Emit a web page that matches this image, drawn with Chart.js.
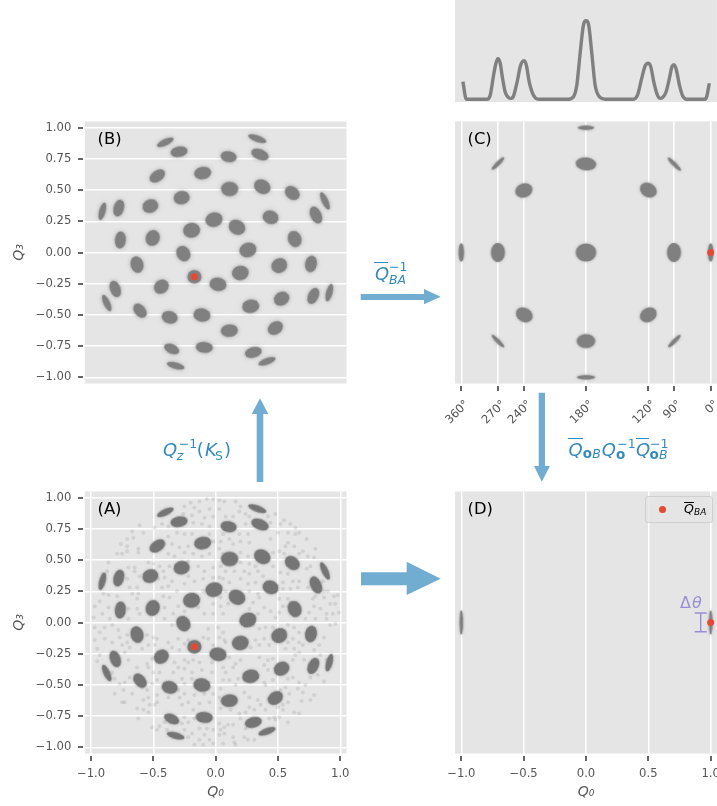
<!DOCTYPE html>
<html>
<head>
<meta charset="utf-8">
<title>Q0 Q3 projections</title>
<script src="https://cdn.jsdelivr.net/npm/chart.js@4"></script>
<style>
  html, body { margin: 0; padding: 0; background: #fff; }
  #page { position: relative; width: 717px; height: 806px; overflow: hidden; font-family: "DejaVu Sans", sans-serif; }
  #page canvas { position: absolute; }
  #arrows { position: absolute; left: 0; top: 0; }
  .piece { position: absolute; white-space: pre; line-height: normal; }
  .rule { position: absolute; }
  .tick { position: absolute; background: #666666; }
  #legendBox { position: absolute; left: 645px; top: 496px; width: 66px; height: 25px; background: rgba(229,229,229,0.8); border: 1px solid #cfcfcf; border-radius: 3px; }
  #legendDot { position: absolute; left: 658.8px; top: 505.8px; width: 7px; height: 7px; border-radius: 50%; background: #E24A33; }
</style>
</head>
<body>
<div id="page"></div>
<script>
// axis ticks
const q0Ticks = [-1, -0.5, 0, 0.5, 1];
const q0Labels = ["\u22121.0", "\u22120.5", "0.0", "0.5", "1.0"];
const q3Ticks = [-1, -0.75, -0.5, -0.25, 0, 0.25, 0.5, 0.75, 1];
const q3Labels = ["\u22121.00", "\u22120.75", "\u22120.50", "\u22120.25", "0.00", "0.25", "0.50", "0.75", "1.00"];
const angleTicks = [-1, -0.706, -0.498, 0, 0.5, 0.706, 1];
const angleLabels = ["360\u00b0", "270\u00b0", "240\u00b0", "180\u00b0", "120\u00b0", "90\u00b0", "0\u00b0"];

// centres of the point clusters in (A) and (B)
const clusterQ0 = [-0.404, -0.294, 0.104, 0.334, 0.356, -0.104, -0.468, 0.112, 0.374, 0.615, 0.877, 0.805, 0.441, 0.171, -0.013, -0.273, -0.524, -0.778, -0.909, -0.765, -0.505, -0.193, -0.259, 0.259, 0.634, -0.631, -0.805, -0.874, -0.607, -0.436, -0.171, 0.019, 0.198, 0.511, 0.765, 0.529, 0.281, -0.11, -0.369, -0.353, -0.321, -0.091, 0.11, 0.479, 0.783, 0.912, 0.302, 0.412];
const clusterQ3 = [0.883, 0.808, 0.768, 0.912, 0.786, 0.637, 0.613, 0.509, 0.527, 0.477, 0.413, 0.3, 0.282, 0.202, 0.263, 0.439, 0.372, 0.356, 0.33, 0.1, 0.116, 0.178, -0.009, 0.02, 0.108, -0.097, -0.292, -0.405, -0.466, -0.274, -0.194, -0.255, -0.164, -0.105, -0.092, -0.37, -0.431, -0.501, -0.519, -0.773, -0.907, -0.76, -0.626, -0.605, -0.348, -0.322, -0.8, -0.872];

// centres of the clusters in (C)
const alignedQ0 = [0, 0, 0, 0, 0, -0.498, 0.5, -0.495, 0.5, -0.706, 0.706, -1, 1, -0.706, 0.709, -0.706, 0.709];
const alignedQ3 = [1, 0.71, 0, -0.71, -1, 0.497, 0.5, -0.5, -0.5, 0, 0, 0, 0, 0.713, 0.708, -0.71, -0.71];

// clusters in (D)
const finalQ0 = [-1, 1];
const finalQ3 = [0, 0];

// the marked rotation
const markedA = [-0.171, -0.194];
const markedC = [1, 0];

// error bar for delta theta in (D)
const deltaQ0 = [0.92, 0.92];
const deltaQ3 = [0.076, -0.074];

// ridge curve above (C)
const ridgeQ0 = [-0.987, -0.96, -0.794, -0.768, -0.741, -0.722, -0.706, -0.688, -0.669, -0.648, -0.621, -0.602, -0.581, -0.549, -0.527, -0.498, -0.479, -0.453, -0.421, -0.381, -0.14, -0.1, -0.073, -0.047, -0.02, 0, 0.02, 0.047, 0.073, 0.108, 0.154, 0.38, 0.413, 0.447, 0.474, 0.498, 0.519, 0.546, 0.573, 0.594, 0.615, 0.642, 0.669, 0.69, 0.706, 0.725, 0.749, 0.776, 0.808, 0.955, 0.968, 0.989];
const ridgeHeight = [0.23, 0.01, 0.01, 0.06, 0.31, 0.46, 0.52, 0.46, 0.27, 0.1, 0.03, 0.02, 0.05, 0.25, 0.42, 0.49, 0.44, 0.21, 0.06, 0.01, 0.01, 0.04, 0.19, 0.58, 0.94, 0.99, 0.95, 0.58, 0.19, 0.04, 0.01, 0.01, 0.06, 0.27, 0.425, 0.46, 0.42, 0.21, 0.06, 0.02, 0.03, 0.1, 0.27, 0.42, 0.44, 0.375, 0.19, 0.05, 0.01, 0.01, 0.04, 0.21];

// faint scatter in (A), one quadrant at a time
const scatterUpperLeft = [[-0.25,0.93],[-0.2,0.96],[-0.13,0.97],[-0.07,0.99],[-0.02,0.99],[-0.17,0.92],[-0.26,0.87],[-0.19,0.86],[-0.13,0.89],[-0.05,0.91],[-0.09,0.84],[-0.02,0.85],[-0.18,0.8],[-0.11,0.79],[-0.05,0.77],[-0.43,0.79],[-0.38,0.77],[-0.49,0.76],[-0.61,0.78],[-0.67,0.73],[-0.58,0.72],[-0.71,0.67],[-0.76,0.63],[-0.71,0.61],[-0.66,0.68],[-0.62,0.59],[-0.71,0.57],[-0.79,0.55],[-0.75,0.55],[-0.86,0.48],[-0.7,0.44],[-0.65,0.44],[-0.62,0.56],[-0.38,0.69],[-0.31,0.72],[-0.25,0.71],[-0.19,0.71],[-0.41,0.63],[-0.35,0.63],[-0.29,0.6],[-0.22,0.61],[-0.15,0.65],[-0.05,0.71],[-0.02,0.65],[-0.38,0.55],[-0.33,0.53],[-0.25,0.56],[-0.18,0.55],[-0.11,0.53],[-0.05,0.55],[-0.54,0.48],[-0.5,0.47],[-0.45,0.45],[-0.42,0.41],[-0.37,0.45],[-0.22,0.49],[-0.14,0.45],[-0.09,0.41],[-0.02,0.44],[-0.46,0.35],[-0.41,0.36],[-0.35,0.33],[-0.22,0.37],[-0.17,0.33],[-0.1,0.35],[-0.02,0.36],[-0.87,0.41],[-0.91,0.39],[-0.65,0.41],[-0.71,0.35],[-0.69,0.28],[-0.63,0.28],[-0.61,0.37],[-0.43,0.28],[-0.38,0.29],[-0.31,0.25],[-0.25,0.31],[-0.1,0.25],[-0.67,0.23],[-0.63,0.19],[-0.62,0.23],[-0.9,0.23],[-0.86,0.22],[-0.97,0.13],[-0.93,0.17],[-0.79,0.21],[-0.86,0.12],[-0.7,0.11],[-0.63,0.11],[-0.61,0.07],[-0.42,0.21],[-0.37,0.2],[-0.3,0.13],[-0.41,0.12],[-0.34,0.07],[-0.25,0.09],[-0.91,0.07],[-0.98,0.04],[-0.85,0.03],[-0.7,0.03],[-0.41,0.03],[-0.14,0.12],[-0.09,0.07],[-0.02,0.15],[-0.02,0.07]];
const scatterUpperRight = [[0.03,0.98],[0.07,0.97],[0.16,0.97],[0.2,0.93],[0.03,0.91],[0.08,0.85],[0.14,0.85],[0.19,0.89],[0.24,0.87],[0.27,0.85],[0.48,0.87],[0.42,0.85],[0.44,0.8],[0.55,0.82],[0.6,0.79],[0.64,0.76],[0.52,0.79],[0.24,0.79],[0.26,0.71],[0.06,0.71],[0.04,0.65],[0.11,0.67],[0.19,0.71],[0.2,0.65],[0.14,0.63],[0.27,0.64],[0.44,0.67],[0.5,0.72],[0.58,0.72],[0.64,0.71],[0.67,0.72],[0.73,0.67],[0.58,0.64],[0.56,0.61],[0.63,0.61],[0.7,0.57],[0.8,0.59],[0.46,0.56],[0.51,0.57],[0.55,0.55],[0.67,0.55],[0.74,0.53],[0.79,0.52],[0.03,0.59],[0.06,0.55],[0.2,0.56],[0.26,0.53],[0.27,0.47],[0.2,0.48],[0.15,0.41],[0.08,0.41],[0.04,0.45],[0.03,0.36],[0.23,0.41],[0.27,0.39],[0.32,0.45],[0.34,0.41],[0.46,0.45],[0.52,0.4],[0.58,0.39],[0.62,0.33],[0.67,0.33],[0.73,0.43],[0.76,0.45],[0.79,0.36],[0.86,0.33],[0.06,0.35],[0.11,0.32],[0.2,0.35],[0.26,0.31],[0.32,0.32],[0.38,0.37],[0.54,0.32],[0.54,0.27],[0.6,0.27],[0.66,0.28],[0.74,0.28],[0.8,0.21],[0.87,0.25],[0.9,0.25],[0.95,0.21],[0.98,0.22],[0.08,0.25],[0.27,0.25],[0.34,0.23],[0.04,0.2],[0.3,0.16],[0.35,0.2],[0.51,0.19],[0.58,0.19],[0.6,0.16],[0.78,0.19],[0.87,0.2],[0.92,0.15],[0.96,0.15],[0.04,0.13],[0.1,0.15],[0.27,0.11],[0.39,0.12],[0.44,0.09],[0.51,0.08],[0.54,0.13],[0.58,0.13],[0.75,0.08],[0.79,0.13],[0.84,0.11],[0.89,0.07],[0.94,0.07],[0.06,0.07],[0.34,0.07],[0.48,0.04],[0.72,0.03],[0.8,0.03],[0.89,0.03],[0.99,0.08]];
const scatterLowerLeft = [[-0.97,-0.04],[-0.93,-0.08],[-0.89,-0.04],[-0.83,-0.02],[-0.78,-0.06],[-0.89,-0.13],[-0.83,-0.16],[-0.97,-0.14],[-0.77,-0.12],[-0.71,-0.16],[-0.75,-0.18],[-0.69,-0.2],[-0.71,-0.1],[-0.55,-0.1],[-0.54,-0.18],[-0.59,-0.21],[-0.95,-0.21],[-0.93,-0.26],[-0.95,-0.31],[-0.89,-0.36],[-0.73,-0.24],[-0.7,-0.3],[-0.63,-0.36],[-0.55,-0.33],[-0.54,-0.36],[-0.51,-0.29],[-0.49,-0.18],[-0.5,-0.12],[-0.47,-0.13],[-0.35,-0.02],[-0.3,-0.13],[-0.25,-0.17],[-0.35,-0.2],[-0.29,-0.22],[-0.38,-0.16],[-0.22,-0.14],[-0.1,-0.12],[-0.06,-0.13],[-0.06,-0.05],[-0.02,-0.18],[-0.18,-0.3],[-0.22,-0.32],[-0.25,-0.3],[-0.33,-0.32],[-0.3,-0.36],[-0.34,-0.4],[-0.25,-0.37],[-0.19,-0.4],[-0.13,-0.32],[-0.11,-0.38],[-0.03,-0.32],[-0.03,-0.4],[-0.83,-0.4],[-0.81,-0.45],[-0.77,-0.49],[-0.73,-0.48],[-0.69,-0.44],[-0.65,-0.46],[-0.5,-0.4],[-0.51,-0.49],[-0.47,-0.46],[-0.45,-0.4],[-0.27,-0.45],[-0.19,-0.45],[-0.25,-0.49],[-0.81,-0.57],[-0.74,-0.54],[-0.73,-0.64],[-0.75,-0.64],[-0.67,-0.57],[-0.59,-0.52],[-0.55,-0.54],[-0.54,-0.6],[-0.47,-0.58],[-0.47,-0.64],[-0.63,-0.69],[-0.58,-0.62],[-0.53,-0.66],[-0.49,-0.66],[-0.58,-0.7],[-0.54,-0.72],[-0.62,-0.77],[-0.38,-0.6],[-0.3,-0.54],[-0.29,-0.6],[-0.25,-0.57],[-0.22,-0.64],[-0.17,-0.58],[-0.13,-0.65],[-0.05,-0.64],[-0.02,-0.57],[-0.09,-0.57],[-0.27,-0.66],[-0.18,-0.7],[-0.25,-0.76],[-0.17,-0.77],[-0.22,-0.8],[-0.27,-0.81],[-0.51,-0.84],[-0.47,-0.86],[-0.45,-0.83],[-0.39,-0.86],[-0.25,-0.86],[-0.19,-0.89],[-0.13,-0.85],[-0.07,-0.85],[-0.02,-0.86],[-0.22,-0.92],[-0.09,-0.9],[-0.05,-0.94],[-0.13,-0.94],[-0.02,-0.97],[-0.17,-0.98],[-0.1,-0.98],[-0.41,-0.8]];
const scatterLowerRight = [[0.02,-0.04],[0.06,-0.08],[0.03,-0.12],[0.07,-0.14],[0.08,-0.16],[0.3,-0.02],[0.35,-0.05],[0.4,-0.04],[0.46,-0.04],[0.58,-0.02],[0.63,-0.04],[0.67,-0.08],[0.62,-0.13],[0.67,-0.16],[0.32,-0.14],[0.35,-0.18],[0.28,-0.2],[0.39,-0.13],[0.43,-0.18],[0.58,-0.16],[0.56,-0.21],[0.63,-0.21],[0.7,-0.18],[0.83,-0.18],[0.87,-0.12],[0.92,-0.02],[0.96,-0.01],[0.11,-0.28],[0.06,-0.36],[0.08,-0.4],[0.14,-0.36],[0.16,-0.33],[0.2,-0.3],[0.35,-0.28],[0.39,-0.34],[0.42,-0.3],[0.42,-0.38],[0.46,-0.29],[0.62,-0.3],[0.64,-0.26],[0.67,-0.24],[0.71,-0.3],[0.79,-0.22],[0.84,-0.26],[0.89,-0.3],[0.91,-0.29],[0.06,-0.46],[0.11,-0.46],[0.18,-0.45],[0.39,-0.48],[0.46,-0.46],[0.58,-0.45],[0.62,-0.44],[0.67,-0.48],[0.72,-0.5],[0.76,-0.44],[0.82,-0.42],[0.87,-0.47],[0.04,-0.53],[0.16,-0.5],[0.03,-0.6],[0.23,-0.56],[0.27,-0.6],[0.34,-0.62],[0.42,-0.61],[0.4,-0.5],[0.52,-0.54],[0.56,-0.52],[0.59,-0.57],[0.66,-0.53],[0.69,-0.63],[0.76,-0.62],[0.79,-0.58],[0.7,-0.56],[0.04,-0.69],[0.12,-0.7],[0.19,-0.73],[0.24,-0.72],[0.27,-0.68],[0.31,-0.7],[0.36,-0.66],[0.4,-0.7],[0.5,-0.68],[0.54,-0.66],[0.58,-0.64],[0.63,-0.72],[0.67,-0.73],[0.03,-0.81],[0.07,-0.84],[0.04,-0.86],[0.1,-0.82],[0.14,-0.82],[0.2,-0.77],[0.47,-0.76],[0.51,-0.76],[0.58,-0.8],[0.48,-0.78],[0.03,-0.9],[0.07,-0.89],[0.14,-0.92],[0.15,-0.96],[0.23,-0.92],[0.26,-0.94],[0.31,-0.94],[0.06,-0.97],[0.16,-0.98],[0.24,-0.85],[0.43,-0.77],[0.54,-0.7]];

// marker shapes, in pixels: [length, width, angle]. One entry per cluster above
const clusterShapes = [[16,5,25],[15,9,10],[14,9.5,-10],[17,5,-20],[16,9,-22],[15,11,10],[15,9.5,35],[15,13,0],[15,12.5,-30],[14,11,-40],[17,5,-65],[16,9.5,-65],[14,12,-20],[15,13,-30],[15,13,15],[14,12,10],[14,12,20],[15,9,75],[16,5,75],[15,9.5,85],[14,12.5,70],[15,13.5,10],[14,12,-60],[15,13,20],[14.5,12,-70],[14.5,11.5,-75],[15,9,-70],[16,5,-65],[14,9.5,-50],[13.5,12,40],[12,12,0],[15,12,-10],[14.5,13,10],[14,13,30],[14.5,10.5,80],[14,12,30],[15,12,10],[15,12,-10],[14,11,-15],[14,8,-25],[16,5,-15],[15,9.5,-5],[15,11,5],[14,11,35],[15,9,65],[16,5,75],[15,9,15],[16,5,20]];
const alignedShapes = [[15,3.5,0],[19,12,-5],[19,17,0],[17,13,0],[17,3.5,0],[16,13,20],[16,13,-30],[16,13,-30],[16,13,30],[17.5,13,90],[17.5,13,90],[17,4.5,90],[17,4.5,90],[16,3,45],[17,3,-45],[16,3,-45],[16,3,45]];
const finalShapes = [[24,3.2,90],[24,3.2,90]];

const font = '"DejaVu Sans", sans-serif';
const tickColor = "#555555";
const faceColor = "#E5E5E5";
const red = "#E24A33";
const blue = "#348ABD";
const purple = "#988ED5";

Chart.defaults.animation = false;
Chart.defaults.responsive = false;
Chart.defaults.events = [];
Chart.defaults.plugins.legend.display = false;
Chart.defaults.plugins.tooltip.enabled = false;
Chart.defaults.font.family = font;

const plotFace = {
  id: "plotFace",
  beforeDraw(chart) {
    const { ctx, chartArea: a } = chart;
    ctx.save();
    ctx.fillStyle = faceColor;
    ctx.fillRect(a.left, a.top, a.right - a.left, a.bottom - a.top);
    ctx.restore();
  },
};

const sprites = {};
function sprite(length, width, color, blur) {
  const key = [length, width, color, blur].join("/");
  if (sprites[key]) return sprites[key];
  const c = document.createElement("canvas");
  c.width = Math.ceil(length) + 20;
  c.height = Math.ceil(width) + 20;
  const g = c.getContext("2d");
  g.shadowColor = "rgba(128,128,128,0.6)";
  g.shadowBlur = blur;
  g.fillStyle = color;
  g.beginPath();
  g.ellipse(c.width / 2, c.height / 2, length / 2, width / 2, 0, 0, Math.PI * 2);
  g.fill();
  sprites[key] = c;
  return c;
}

function toPoints(xs, ys) {
  return xs.map((x, i) => ({ x: x, y: ys[i] }));
}

function clusterSet(xs, ys, shapes, color, blur, grow) {
  return {
    data: toPoints(xs, ys),
    showLine: false,
    pointRadius: 4,
    pointBorderWidth: 0,
    pointStyle: (c) => {
      const s = shapes[c.dataIndex];
      return sprite(s[0] + grow, s[1] + grow * 0.7, color, blur);
    },
    pointRotation: (c) => -shapes[c.dataIndex][2],
  };
}

function redSet(point) {
  return {
    data: [{ x: point[0], y: point[1] }],
    showLine: false,
    pointRadius: 3.5,
    pointBorderWidth: 0,
    pointBackgroundColor: red,
  };
}

// plot area has to land on exact pixels, so tick label overhang must not move it
function fixedSize(scale, size) {
  if (scale.isHorizontal()) scale.height = size;
  else scale.width = size;
  scale.paddingLeft = scale.paddingRight = scale.paddingTop = scale.paddingBottom = 0;
}

function axis(values, labels, size, extra) {
  const base = {
    type: "linear",
    min: -1.05,
    max: 1.05,
    afterBuildTicks: (scale) => {
      scale.ticks = values.map((v) => ({ value: v }));
    },
    afterFit: (scale) => fixedSize(scale, size),
    grid: { color: "#ffffff", lineWidth: 1.5, drawTicks: false },
    border: { display: false },
    ticks: {
      display: labels.length > 0,
      autoSkip: false,
      maxRotation: 0,
      minRotation: 0,
      color: tickColor,
      padding: 13.5,
      font: { size: 11.6 },
      callback: (v, i) => labels[i],
    },
  };
  return Object.assign(base, extra);
}

const q0Title = { title: { display: true, text: "Q\u2080", color: tickColor, font: { size: 14, style: "italic" }, padding: { top: 0, bottom: 5.6 } } };
const q3Title = { title: { display: true, text: "Q\u2083", color: tickColor, font: { size: 14, style: "italic" }, padding: { top: 11, bottom: 0 } } };

const panels = [];
function addPanel(box, padding, datasets, scales) {
  const canvas = document.createElement("canvas");
  canvas.width = box.w;
  canvas.height = box.h;
  canvas.style.left = box.x + "px";
  canvas.style.top = box.y + "px";
  document.getElementById("page").appendChild(canvas);
  const chart = new Chart(canvas, {
    type: "scatter",
    data: { datasets: datasets },
    options: { layout: { padding: padding }, scales: scales },
    plugins: [plotFace],
  });
  panels.push({ box: box, chart: chart });
}

// panel B
addPanel(
  { x: 0, y: 110, w: 358, h: 290 },
  { top: 11.46, right: 11.5 },
  [redSet(markedA), clusterSet(clusterQ0, clusterQ3, clusterShapes, "#808080", 4.5, 2.2)],
  {
    x: axis(q0Ticks, [], 16.46),
    y: axis(q3Ticks, q3Labels, 84.8, q3Title),
  }
);

// panel A
const scatterAll = scatterUpperLeft.concat(scatterUpperRight, scatterLowerLeft, scatterLowerRight);
addPanel(
  { x: 0, y: 480, w: 358, h: 326 },
  { top: 11.46, right: 11.5 },
  [
    redSet(markedA),
    clusterSet(clusterQ0, clusterQ3, clusterShapes, "#757575", 3, 2.2),
    {
      data: scatterAll.map((p) => ({ x: p[0], y: p[1] })),
      showLine: false,
      pointRadius: 2,
      pointBorderWidth: 0,
      pointBackgroundColor: "rgba(128,128,128,0.2)",
    },
  ],
  {
    x: axis(q0Ticks, q0Labels, 52.46, q0Title),
    y: axis(q3Ticks, q3Labels, 84.8, q3Title),
  }
);

// panel C, wider than the window so the last tick label has room
const angleAxis = axis(angleTicks, angleLabels, 46.46, {});
angleAxis.ticks.minRotation = 45;
angleAxis.ticks.maxRotation = 45;
angleAxis.ticks.labelOffset = 6;
angleAxis.ticks.padding = 14;
addPanel(
  { x: 430, y: 110, w: 305, h: 320 },
  { top: 11.46, right: 18.1 },
  [redSet(markedC), clusterSet(alignedQ0, alignedQ3, alignedShapes, "#808080", 3, 1.5)],
  {
    x: angleAxis,
    y: axis(q3Ticks, [], 25.05),
  }
);

// panel D
addPanel(
  { x: 430, y: 480, w: 305, h: 326 },
  { top: 11.46, right: 18.1 },
  [
    redSet(markedC),
    {
      data: toPoints(deltaQ0, deltaQ3),
      showLine: true,
      borderColor: purple,
      borderWidth: 1.4,
      pointStyle: "line",
      pointRadius: 6,
      pointBorderColor: purple,
      pointBorderWidth: 1.4,
    },
    clusterSet(finalQ0, finalQ3, finalShapes, "#808080", 3, 0.6),
  ],
  {
    x: axis(q0Ticks, q0Labels, 52.46, q0Title),
    y: axis(q3Ticks, [], 25.05),
  }
);

// ridge panel on top
addPanel(
  { x: 430, y: 0, w: 305, h: 110 },
  { left: 25.05, right: 18.1 },
  [
    {
      data: toPoints(ridgeQ0, ridgeHeight),
      showLine: true,
      borderColor: "#808080",
      borderWidth: 3.4,
      pointRadius: 0,
      cubicInterpolationMode: "monotone",
    },
  ],
  {
    x: axis(q0Ticks, [], 8),
    y: { type: "linear", min: -0.025, max: 1.25, display: false },
  }
);

const page = document.getElementById("page");

// the ticks stand 2px off the axes, which grid.drawTicks cannot do
panels.forEach(({ box, chart }) => {
  const a = chart.chartArea;
  Object.values(chart.scales).forEach((scale) => {
    if (scale.options.display === false) return;
    scale.ticks.forEach((tick) => {
      const p = Math.round(scale.getPixelForValue(tick.value));
      const mark = document.createElement("div");
      mark.className = "tick";
      if (scale.axis === "x") {
        mark.style.left = box.x + p - 1 + "px";
        mark.style.top = Math.round(box.y + a.bottom + 2) + "px";
        mark.style.width = "2px";
        mark.style.height = "5px";
      } else {
        mark.style.left = Math.round(box.x + a.left - 7) + "px";
        mark.style.top = box.y + p - 1 + "px";
        mark.style.width = "5px";
        mark.style.height = "2px";
      }
      page.appendChild(mark);
    });
  });
});

// arrows between the panels
const arrowShapes = [
  "256.7,482 256.7,414 251.7,414 260,398.3 268.3,414 263.3,414 263.3,482",
  "360.7,294 424,294 424,289 440.7,296.7 424,304.3 424,300 360.7,300",
  "538.7,392.7 545,392.7 545,466 550,466 541.8,481.7 534,466 538.7,466",
  "361,572.3 406.7,572.3 406.7,561.7 440.7,578.7 406.7,595 406.7,585.3 361,585.3",
];
const svgNS = "http://www.w3.org/2000/svg";
const svg = document.createElementNS(svgNS, "svg");
svg.setAttribute("id", "arrows");
svg.setAttribute("width", 717);
svg.setAttribute("height", 806);
arrowShapes.forEach((pts) => {
  const poly = document.createElementNS(svgNS, "polygon");
  poly.setAttribute("points", pts);
  poly.setAttribute("fill", blue);
  poly.setAttribute("fill-opacity", 0.7);
  svg.appendChild(poly);
});
page.appendChild(svg);

page.insertAdjacentHTML("beforeend", '<div id="legendBox"></div><div id="legendDot"></div>');

// text, x, baseline, size, colour, style
const textPieces = [
  ["(A)", 97.5, 514.5, 16.4, "#000", ""],
  ["(B)", 97.5, 144.5, 16.4, "#000", ""],
  ["(C)", 467.5, 144.5, 16.4, "#000", ""],
  ["(D)", 467.5, 514.5, 16.4, "#000", ""],
  // inverse of Qz applied to Ks
  ["Q", 163, 456, 18, blue, "i"],
  ["z", 176.7, 459.5, 12.5, blue, "i"],
  ["\u22121", 178.7, 448, 12.5, blue, ""],
  ["(", 196.7, 456, 18, blue, ""],
  ["K", 205, 456, 18, blue, "i"],
  ["S", 215, 459.5, 12.5, blue, ""],
  [")", 224, 456, 18, blue, ""],
  // inverse of Q bar BA
  ["Q", 375, 280, 18, blue, "i"],
  ["\u22121", 389, 270.7, 12.5, blue, ""],
  ["BA", 389, 283.5, 12.5, blue, "i"],
  // long product between C and D
  ["Q", 568.5, 456, 18, blue, "i"],
  ["o", 582.7, 457.5, 13.5, blue, "b"],
  ["B", 592.3, 457.5, 12.5, blue, "i"],
  ["Q", 601.7, 456, 18, blue, "i"],
  ["o", 616, 459, 13.5, blue, "b"],
  ["\u22121", 617.3, 447.7, 12.5, blue, ""],
  ["Q", 636, 456, 18, blue, "i"],
  ["o", 649.5, 459, 13.5, blue, "b"],
  ["B", 659, 459, 12.5, blue, "i"],
  ["\u22121", 650, 447.7, 12.5, blue, ""],
  // delta theta
  ["\u0394", 680, 608, 16, purple, ""],
  ["\u03b8", 692, 608, 16, purple, "i"],
  // legend text
  ["Q", 684, 512.3, 12.5, "#000", "i"],
  ["BA", 694, 515, 9, "#000", "i"],
];

textPieces.forEach((p) => {
  const span = document.createElement("span");
  span.className = "piece";
  span.textContent = p[0];
  span.style.left = p[1] + "px";
  span.style.top = p[2] - 0.928 * p[3] + "px";
  span.style.fontSize = p[3] + "px";
  span.style.color = p[4];
  if (p[5] === "i") span.style.fontStyle = "italic";
  if (p[5] === "b") span.style.fontWeight = "bold";
  page.appendChild(span);
});

// overbars: x, y, width, colour
const overbars = [
  [374.3, 262.2, 13.8, blue],
  [568.3, 438.2, 14.4, blue],
  [635.6, 438.2, 13.8, blue],
  [684, 502.2, 10, "#000"],
];
overbars.forEach((b) => {
  const rule = document.createElement("div");
  rule.className = "rule";
  rule.style.left = b[0] + "px";
  rule.style.top = b[1] + "px";
  rule.style.width = b[2] + "px";
  rule.style.height = "1.3px";
  rule.style.background = b[3];
  page.appendChild(rule);
});
</script>
</body>
</html>
